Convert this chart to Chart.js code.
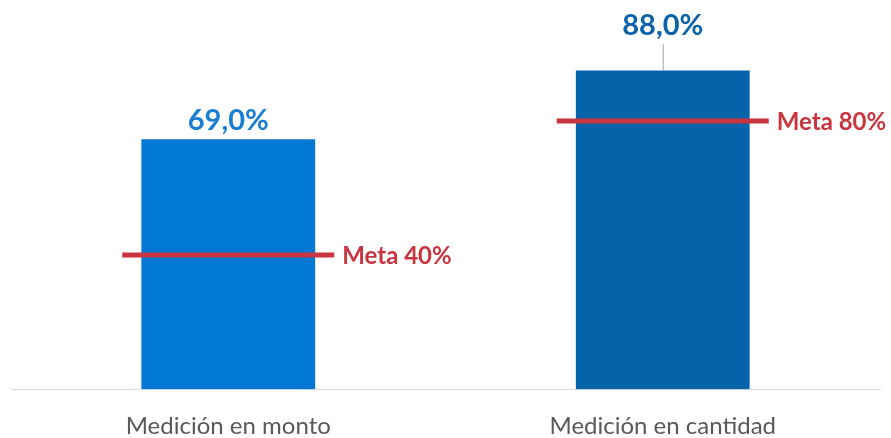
<!DOCTYPE html>
<html>
<head>
<meta charset="utf-8">
<script src="https://cdn.jsdelivr.net/npm/chart.js@4.4.0/dist/chart.umd.min.js"></script>
<style>
  html, body { margin: 0; padding: 0; background: #fff; }
  #wrap { width: 891px; height: 438px; }
</style>
</head>
<body>
<div id="wrap"><canvas id="chart"></canvas></div>
<script>
// data
const categories = ["Medición en monto", "Medición en cantidad"];
const avance = [69.0, 88.0];
const metas = [40, 80];

const barColors = ["#0078d4", "#0563a9"];
const labelColors = ["#1a7fd2", "#0b62a8"];
const red = "#c9343f";

// value labels above bars, meta labels to the right of the red lines
const labelsPlugin = {
    id: "labels",
    afterDatasetsDraw(chart) {
        const ctx = chart.ctx;
        const bars = chart.getDatasetMeta(0).data;
        const lifts = [19, 45];
        ctx.save();
        bars.forEach((bar, i) => {
            const y = bar.y - lifts[i];
            if (lifts[i] > 30) {
                ctx.strokeStyle = "#a6a6a6";
                ctx.lineWidth = 1;
                ctx.beginPath();
                ctx.moveTo(bar.x + 0.5, y + 19);
                ctx.lineTo(bar.x + 0.5, bar.y);
                ctx.stroke();
            }
            ctx.fillStyle = labelColors[i];
            ctx.font = "bold 29px Lato";
            ctx.textAlign = "center";
            ctx.textBaseline = "middle";
            ctx.fillText(avance[i].toFixed(1).replace(".", ",") + "%", bar.x, y);
        });
        const pts = chart.getDatasetMeta(1).data;
        pts.forEach((p, i) => {
            ctx.fillStyle = red;
            ctx.font = "bold 24px Lato";
            ctx.textAlign = "left";
            ctx.textBaseline = "middle";
            ctx.fillText("Meta " + metas[i] + "%", p.x + 114, p.y + 1);
        });
        ctx.restore();
    }
};

new Chart(document.getElementById("chart"), {
    type: "bar",
    data: {
        labels: categories,
        datasets: [{
            label: "Avance",
            data: avance,
            backgroundColor: barColors,
            barPercentage: 1,
            categoryPercentage: 0.4,
            yAxisID: "y",
            order: 2
        }, {
            type: "line",
            label: "Meta",
            data: metas,
            yAxisID: "y1",
            order: 1,
            showLine: false,
            pointStyle: "line",
            pointRadius: 106,
            pointHoverRadius: 106,
            pointBorderWidth: 5,
            pointBorderColor: red,
            pointBackgroundColor: red,
            clip: false
        }]
    },
    options: {
        responsive: true,
        maintainAspectRatio: false,
        animation: false,
        events: [],
        layout: { autoPadding: false, padding: { top: 27, left: 11, right: 11, bottom: -26 } },
        plugins: {
            legend: { display: false },
            tooltip: { enabled: false }
        },
        scales: {
            x: {
                grid: { display: false, drawTicks: false },
                border: { display: true, color: "#d9d9d9", width: 1 },
                ticks: {
                    color: "#595959",
                    padding: 23,
                    font: { family: "Lato", size: 24 }
                }
            },
            y: { display: false, min: 0, max: 100 },
            y1: { display: false, min: 0, max: 108 }
        }
    },
    plugins: [labelsPlugin]
});
</script>
</body>
</html>
